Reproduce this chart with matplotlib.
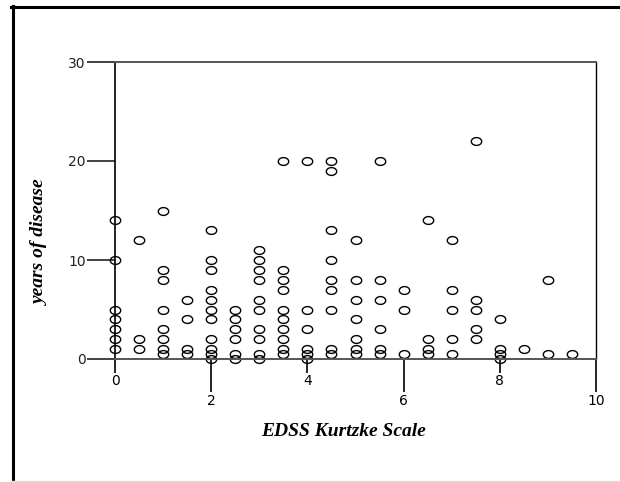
import matplotlib
matplotlib.use("Agg")
import matplotlib.pyplot as plt
from matplotlib.path import Path
from matplotlib.transforms import Affine2D
from matplotlib.lines import Line2D

# EDSS score -> years of disease for each patient at that score
edss_levels = [0, 0.5, 1, 1.5, 2, 2.5, 3, 3.5, 4, 4.5, 5, 5.5, 6, 6.5, 7, 7.5, 8, 8.5, 9, 9.5]
years_by_level = [
    [14, 10, 5, 4, 3, 2, 1],
    [12, 2, 1],
    [15, 9, 8, 5, 3, 2, 1, 0.5],
    [6, 4, 1, 0.5],
    [13, 10, 9, 7, 6, 5, 4, 2, 1, 0.5, 0],
    [5, 4, 3, 2, 0.5, 0],
    [11, 10, 9, 8, 6, 5, 3, 2, 0.5, 0],
    [20, 9, 8, 7, 5, 4, 3, 2, 1, 0.5],
    [20, 5, 3, 1, 0.5, 0],
    [20, 19, 13, 10, 8, 7, 5, 1, 0.5],
    [12, 8, 6, 4, 2, 1, 0.5],
    [20, 8, 6, 3, 1, 0.5],
    [7, 5, 0.5],
    [14, 2, 1, 0.5],
    [12, 7, 5, 2, 0.5],
    [22, 6, 5, 3, 2],
    [4, 1, 0.5, 0],
    [1],
    [8, 0.5],
    [0.5],
]

x_inner_ticks = [0, 4, 8]
x_outer_ticks = [2, 6, 10]
y_ticks = [0, 10, 20, 30]

xs = []
ys = []
for lvl, vals in zip(edss_levels, years_by_level):
    for v in vals:
        xs.append(lvl)
        ys.append(v)

# slightly flattened open circle
ellipse = Path.unit_circle().transformed(Affine2D().scale(1.0, 0.75))

W, H = 620, 482
fig = plt.figure(figsize=(W / 100, H / 100), dpi=100)
ax = fig.add_axes([115 / W, (H - 359) / H, 481 / W, 297 / H])

ax.plot(xs, ys, linestyle="none", marker=ellipse, markersize=7.5,
        markerfacecolor="none", markeredgecolor="black", markeredgewidth=1.0,
        clip_on=False)

ax.set_xlim(0, 10)
ax.set_ylim(0, 30)

for side in ["top", "bottom"]:
    ax.spines[side].set_color("#555555")
    ax.spines[side].set_linewidth(1.4)
ax.spines["left"].set_linewidth(1.2)
ax.spines["right"].set_linewidth(1.0)

tick_font = dict(family="DejaVu Sans", size=10)
ax.set_yticks(y_ticks)
ax.set_yticklabels([str(t) for t in y_ticks], **tick_font)
ax.tick_params(axis="y", direction="out", length=20, width=1.2, pad=1, colors="#222222")

ax.set_xticks(x_inner_ticks)
ax.set_xticklabels([str(t) for t in x_inner_ticks], **tick_font)
ax.set_xticks(x_outer_ticks, minor=True)
ax.set_xticklabels([str(t) for t in x_outer_ticks], minor=True, **tick_font)
ax.tick_params(axis="x", which="major", direction="out", length=10, width=1.2, pad=1)
ax.tick_params(axis="x", which="minor", direction="out", length=24, width=1.2, pad=1)

label_font = dict(family="Liberation Serif", size=14, weight="bold", style="italic")
fig.text(344 / W, 1 - 432 / H, "EDSS Kurtzke Scale", ha="center", va="center", **label_font)
fig.text(40 / W, 1 - 242 / H, "years of disease", ha="center", va="center",
         rotation=90, **label_font)

# outer frame of the figure panel
fig.add_artist(Line2D([12.5 / W, 12.5 / W], [1 - 6 / H, 0], color="black", linewidth=2.2))
fig.add_artist(Line2D([11 / W, 1.0], [1 - 7 / H, 1 - 7 / H], color="black", linewidth=2.2))
fig.add_artist(Line2D([11 / W, 1.0], [1 / H, 1 / H], color="#dddddd", linewidth=1.0))

fig.savefig("out.png", dpi=100)
